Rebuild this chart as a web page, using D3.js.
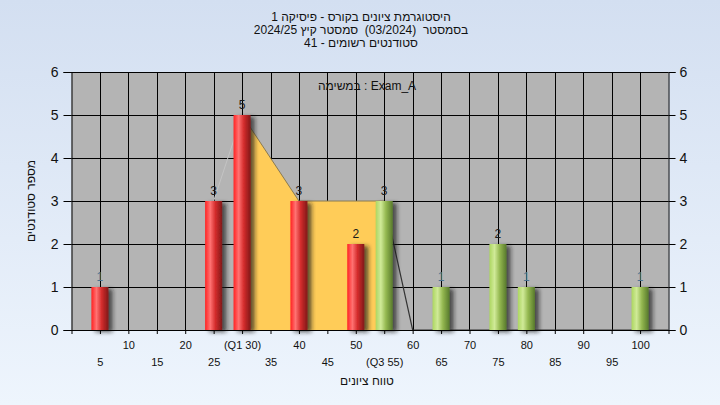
<!DOCTYPE html>
<html>
<head>
<meta charset="utf-8">
<script src="https://cdn.jsdelivr.net/npm/d3@7/dist/d3.min.js"></script>
<style>
  html, body { margin: 0; padding: 0; }
  body { width: 720px; height: 405px; overflow: hidden; }
  text { font-family: "Liberation Sans", Arial, sans-serif; }
</style>
</head>
<body>
<div id="graph"></div>
<script>

// histogram data (score bin -> number of students)
var scores = [5, 25, 30, 40, 50, 55, 65, 75, 80, 100];
var counts = [1, 3, 5, 3, 2, 3, 1, 2, 1, 1];
var passMark = 55;

// quartile polygon
var polyX = [25, 30, 40, 55, 60, 105];
var polyY = [3, 5, 3, 3, 0, 0];
var q1 = 30, q3 = 55;

var xTicks = [0, 5, 10, 15, 20, 25, 30, 35, 40, 45, 50, 55, 60, 65, 70, 75, 80, 85, 90, 95, 100, 105];
var xLabels = ['', '5', '10', '15', '20', '25', '(Q1 30)', '35', '40', '45', '50', '(Q3 55)', '60', '65', '70', '75', '80', '85', '90', '95', '100', ''];
var yTicks = [0, 1, 2, 3, 4, 5, 6];

var titleLines = [
  'היסטוגרמת ציונים בקורס - פיסיקה 1',
  'בסמסטר  (03/2024)  סמסטר קיץ 2024/25',
  'סטודנטים רשומים - 41'
];
var legendText = 'במשימה : Exam_A';
var xTitle = 'טווח ציונים';
var yTitle = 'מספר סטודנטים';

var width = 720, height = 405;
var plot = {left: 71.5, right: 668.5, top: 72, bottom: 330};

var svg = d3.select('#graph').append('svg')
    .attr('width', width).attr('height', height);

var defs = svg.append('defs');

var bg = defs.append('linearGradient').attr('id', 'bg')
    .attr('x1', 0).attr('y1', 0).attr('x2', 0).attr('y2', 1);
bg.append('stop').attr('offset', '0%').attr('stop-color', '#d3dff1');
bg.append('stop').attr('offset', '100%').attr('stop-color', '#eef5fd');

function barGradient(id, c0, c1, c2, c3) {
  var g = defs.append('linearGradient').attr('id', id)
      .attr('x1', 0).attr('y1', 0).attr('x2', 1).attr('y2', 0);
  g.append('stop').attr('offset', '0%').attr('stop-color', c0);
  g.append('stop').attr('offset', '30%').attr('stop-color', c1);
  g.append('stop').attr('offset', '60%').attr('stop-color', c2);
  g.append('stop').attr('offset', '100%').attr('stop-color', c3);
}
barGradient('redBar', '#ff2222', '#ff7272', '#d42c2c', '#801818');
barGradient('greenBar', '#acd660', '#d0ea98', '#94b850', '#587a2c');

var shadow = defs.append('filter').attr('id', 'shadow')
    .attr('x', '-20%').attr('y', '-10%').attr('width', '170%').attr('height', '130%');
shadow.append('feDropShadow').attr('dx', 4).attr('dy', 2)
    .attr('stdDeviation', 2.2).attr('flood-color', '#1a1a1a').attr('flood-opacity', 0.7);

svg.append('rect').attr('width', width).attr('height', height).attr('fill', 'url(#bg)');

var x = d3.scaleLinear().domain([0, 105]).range([plot.left, plot.right]);
var y = d3.scaleLinear().domain([0, 6]).range([plot.bottom, plot.top]);

// plot background + grid
svg.append('rect')
    .attr('x', plot.left).attr('y', plot.top)
    .attr('width', plot.right - plot.left).attr('height', plot.bottom - plot.top)
    .attr('fill', '#b4b4b4');

svg.append('g').selectAll('line.v')
    .data(xTicks.slice(1, -1))
    .enter().append('line')
    .attr('x1', function(d) { return Math.round(x(d)) + 0.5; })
    .attr('x2', function(d) { return Math.round(x(d)) + 0.5; })
    .attr('y1', plot.top).attr('y2', plot.bottom)
    .attr('stroke', '#000').attr('stroke-width', 1);

svg.append('g').selectAll('line.h')
    .data(yTicks)
    .enter().append('line')
    .attr('x1', plot.left).attr('x2', plot.right)
    .attr('y1', function(d) { return Math.round(y(d)) + 0.5; })
    .attr('y2', function(d) { return Math.round(y(d)) + 0.5; })
    .attr('stroke', '#000').attr('stroke-width', 1);

// yellow quartile area
var pts = polyX.map(function(d, i) { return [d, polyY[i]]; });
var inside = pts.filter(function(p) { return p[0] >= q1 && p[0] <= q3; });
var line = d3.line().x(function(p) { return x(p[0]); }).y(function(p) { return y(p[1]); });

svg.append('path')
    .datum(inside)
    .attr('d', d3.area().x(function(p) { return x(p[0]); }).y0(y(0)).y1(function(p) { return y(p[1]); }))
    .attr('fill', '#ffcc58');

svg.append('path').datum(pts.slice(0, 2)).attr('d', line)
    .attr('fill', 'none').attr('stroke', '#c4c4c4').attr('stroke-width', 1);
svg.append('path').datum(pts.slice(1, 4)).attr('d', line)
    .attr('fill', 'none').attr('stroke', '#8a7a50').attr('stroke-width', 1);
svg.append('path').datum(pts.slice(3)).attr('d', line)
    .attr('fill', 'none').attr('stroke', '#333').attr('stroke-width', 1.2);

// bars
var barW = x(3) - x(0);
var bars = svg.append('g').selectAll('.bar')
    .data(scores)
    .enter().append('g').attr('class', 'bar');

bars.append('rect')
    .attr('x', function(d) { return x(d) - barW / 2; })
    .attr('y', function(d, i) { return y(counts[i]); })
    .attr('width', barW)
    .attr('height', function(d, i) { return y(0) - y(counts[i]); })
    .attr('fill', function(d) { return d >= passMark ? 'url(#greenBar)' : 'url(#redBar)'; })
    .attr('filter', 'url(#shadow)');

bars.append('text')
    .attr('x', function(d) { return x(d); })
    .attr('y', function(d, i) { return y(counts[i]) - 6; })
    .attr('text-anchor', 'middle')
    .attr('font-size', 12)
    .attr('fill', function(d, i) { return counts[i] == 1 ? '#4a7290' : '#1a1a1a'; })
    .text(function(d, i) { return counts[i]; });

// axes
var yLeft = svg.append('g')
    .attr('transform', 'translate(' + plot.left + ',0)')
    .call(d3.axisLeft(y).tickValues(yTicks).tickSize(8).tickPadding(5).tickFormat(d3.format('d')));
var yRight = svg.append('g')
    .attr('transform', 'translate(' + plot.right + ',0)')
    .call(d3.axisRight(y).tickValues(yTicks).tickSize(7).tickPadding(4).tickFormat(d3.format('d')));
[yLeft, yRight].forEach(function(a) {
  a.selectAll('path,line').attr('stroke', '#000');
  a.selectAll('text').attr('font-size', 14).attr('fill', '#111')
      .attr('font-family', '"Liberation Sans", Arial, sans-serif');
});

var xAxis = svg.append('g')
    .attr('transform', 'translate(0,' + plot.bottom + ')')
    .call(d3.axisBottom(x).tickValues(xTicks).tickSize(4).tickSizeOuter(0)
      .tickFormat(function(d, i) { return xLabels[i]; }));
xAxis.selectAll('path,line').attr('stroke', '#000');
xAxis.selectAll('text')
    .attr('font-size', 11).attr('fill', '#111')
    .attr('font-family', '"Liberation Sans", Arial, sans-serif')
    .attr('y', function(d) { return d % 10 == 0 ? 11 : 28; });

// titles
svg.append('g').selectAll('text')
    .data(titleLines)
    .enter().append('text')
    .attr('x', 361).attr('y', function(d, i) { return 21 + i * 13; })
    .attr('text-anchor', 'middle').attr('font-size', 12).attr('fill', '#111')
    .style('white-space', 'pre')
    .text(function(d) { return d; });

svg.append('text')
    .attr('x', 367).attr('y', 90)
    .attr('text-anchor', 'middle').attr('font-size', 12).attr('fill', '#111')
    .text(legendText);

svg.append('text')
    .attr('x', 367).attr('y', 385)
    .attr('text-anchor', 'middle').attr('font-size', 12).attr('fill', '#111')
    .text(xTitle);

svg.append('text')
    .attr('transform', 'translate(35,' + (plot.top + plot.bottom) / 2 + ') rotate(-90)')
    .attr('text-anchor', 'middle').attr('font-size', 12).attr('fill', '#111')
    .text(yTitle);

</script>
</body>
</html>
